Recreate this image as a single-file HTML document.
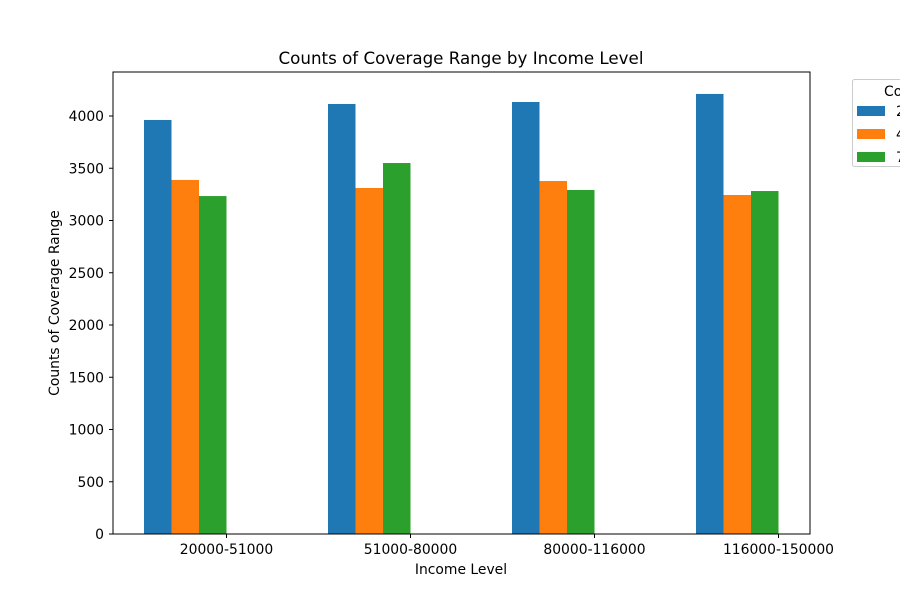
<!DOCTYPE html>
<html><head><meta charset="utf-8"><style>
body{margin:0;background:#fff;font-family:"DejaVu Sans","Liberation Sans",sans-serif;}
svg{display:block;font-family:"DejaVu Sans","Liberation Sans",sans-serif}
</style></head><body>
<svg id="chart" width="900" height="600" viewBox="0 0 900 600">
<rect width="900" height="600" fill="#fff"/>
<text x="461" y="64" font-size="16.7" text-anchor="middle">Counts of Coverage Range by Income Level</text>
<g id="bars"></g>
<g id="yticks"></g>
<g id="xticks"></g>
<rect x="113" y="72" width="697" height="462" fill="none" stroke="#000" stroke-width="1"/>
<text x="461" y="574" font-size="13.9" text-anchor="middle">Income Level</text>
<text transform="translate(59,303) rotate(-90)" font-size="13.9" text-anchor="middle">Counts of Coverage Range</text>
<g id="legend">
<rect x="852.5" y="79.5" width="60" height="87" rx="2" fill="#fff" stroke="#ccc"/>
<text x="884" y="96" font-size="13.9">Coverage Range</text>
</g>
</svg>
<script>
const categories=["20000-51000","51000-80000","80000-116000","116000-150000"];
const seriesNames=["20-40","40-70","70-100"];
const s1=[3962,4115,4134,4211];
const s2=[3388,3311,3378,3244];
const s3=[3234,3550,3292,3282];
const yTicks=[0,500,1000,1500,2000,2500,3000,3500,4000];
const colors=["#1f77b4","#ff7f0e","#2ca02c"];
const NS="http://www.w3.org/2000/svg";
const y0=534,pxPer=418/4000;
function yScale(v){return y0-v*pxPer;}
const groupW=184,barW=27.5;
function xCenter(i){return 226.5+i*groupW;}
function mk(tag,attrs,parent){const e=document.createElementNS(NS,tag);for(const k in attrs)e.setAttribute(k,attrs[k]);parent.appendChild(e);return e;}
const bars=document.getElementById('bars');
[s1,s2,s3].forEach((s,si)=>{
  s.forEach((v,i)=>{
    const x=xCenter(i)-3*barW+si*barW;
    const r=mk('rect',{x:x,y:yScale(v),width:barW,height:y0-yScale(v),fill:colors[si]},bars);
    
    
  });
});
const yt=document.getElementById('yticks');
yTicks.forEach(t=>{
  const y=yScale(t);
  mk('line',{x1:109,x2:113,y1:y,y2:y,stroke:'#000'},yt);
  const tx=mk('text',{x:104,y:y+5,'font-size':13.9,'text-anchor':'end'},yt);
  tx.textContent=t;
  
  
});
const xt=document.getElementById('xticks');
categories.forEach((c,i)=>{
  const x=xCenter(i);
  mk('line',{x1:x,x2:x,y1:534,y2:538,stroke:'#000'},xt);
  const tx=mk('text',{x:x,y:554,'font-size':13.9,'text-anchor':'middle'},xt);
  tx.textContent=c;
  
  
});
const lg=document.getElementById('legend');
seriesNames.forEach((n,i)=>{
  const y=106+i*23;
  const r=mk('rect',{x:857,y:y,width:28,height:10,fill:colors[i]},lg);
  
  
  const t=mk('text',{x:896,y:y+10,'font-size':13.9},lg);
  t.textContent=n;
  
  
});
</script>
</body></html>
